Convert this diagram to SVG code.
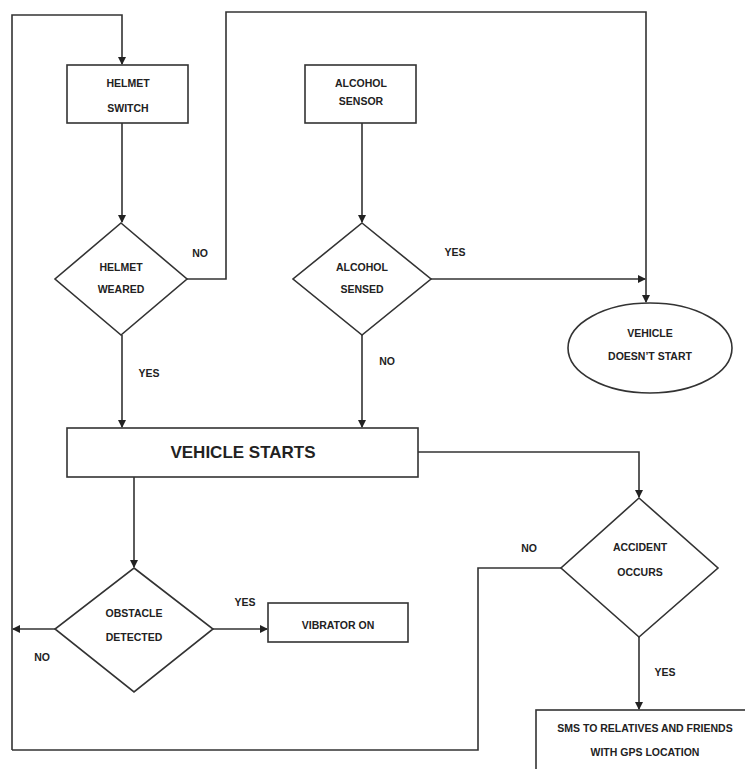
<svg xmlns="http://www.w3.org/2000/svg" width="745" height="769" viewBox="0 0 745 769">
<style>
.s{fill:#fff;stroke:#333;stroke-width:1.6}
.c{fill:none;stroke:#333;stroke-width:1.6}
text{font-family:"Liberation Sans",Arial,sans-serif;font-weight:bold;font-size:10.5px;fill:#222;text-anchor:middle}
.big{font-size:17px}
</style>
<defs>
<marker id="a" markerWidth="8" markerHeight="8" refX="7" refY="4" orient="auto" markerUnits="userSpaceOnUse">
<path d="M0,0 L8,4 L0,8 z" fill="#222"/>
</marker>
</defs>
<rect width="745" height="769" fill="#fff"/>
<g id="connectors">
<path class="c" d="M12,750 L12,15 L122,15 L122,64" marker-end="url(#a)"/>
<path class="c" d="M122,123 L122,222" marker-end="url(#a)"/>
<path class="c" d="M362,123 L362,222" marker-end="url(#a)"/>
<path class="c" d="M187,279 L226,279 L226,12 L646,12 L646,302" marker-end="url(#a)"/>
<path class="c" d="M431,279 L645,279" marker-end="url(#a)"/>
<path class="c" d="M122,335 L122,427" marker-end="url(#a)"/>
<path class="c" d="M362,335 L362,427" marker-end="url(#a)"/>
<path class="c" d="M418,452 L639,452 L639,497" marker-end="url(#a)"/>
<path class="c" d="M134,477 L134,567" marker-end="url(#a)"/>
<path class="c" d="M213,629 L267,629" marker-end="url(#a)"/>
<path class="c" d="M55,629 L13,629" marker-end="url(#a)"/>
<path class="c" d="M562,568 L478,568 L478,750 L12,750"/>
<path class="c" d="M639,637 L639,709" marker-end="url(#a)"/>
<text x="200" y="257">NO</text>
<text x="149" y="377">YES</text>
<text x="455" y="256">YES</text>
<text x="387" y="365">NO</text>
<text x="245" y="606">YES</text>
<text x="42" y="661">NO</text>
<text x="529" y="552">NO</text>
<text x="665" y="676">YES</text>
</g>
<g id="helmet-switch">
<rect class="s" x="67" y="65" width="121" height="58"/>
<text x="128" y="87">HELMET</text>
<text x="128" y="112">SWITCH</text>
</g>
<g id="alcohol-sensor">
<rect class="s" x="305" y="65" width="111" height="58"/>
<text x="361" y="87">ALCOHOL</text>
<text x="361" y="105">SENSOR</text>
</g>
<g id="helmet-weared">
<polygon class="s" points="121,223 187,279 121,335 55,279"/>
<text x="121" y="271">HELMET</text>
<text x="121" y="293">WEARED</text>
</g>
<g id="alcohol-sensed">
<polygon class="s" points="362,223 431,279 362,335 293,279"/>
<text x="362" y="271">ALCOHOL</text>
<text x="362" y="293">SENSED</text>
</g>
<g id="vehicle-doesnt-start">
<ellipse class="s" cx="650" cy="348" rx="82" ry="45"/>
<text x="650" y="337">VEHICLE</text>
<text x="650" y="360">DOESN’T START</text>
</g>
<g id="vehicle-starts">
<rect class="s" x="67" y="428" width="351" height="49"/>
<text class="big" x="243" y="458">VEHICLE STARTS</text>
</g>
<g id="obstacle-detected">
<polygon class="s" points="134,568 213,629 134,692 55,629"/>
<text x="134" y="617">OBSTACLE</text>
<text x="134" y="641">DETECTED</text>
</g>
<g id="vibrator-on">
<rect class="s" x="268" y="603" width="140" height="39"/>
<text x="338" y="629">VIBRATOR ON</text>
</g>
<g id="accident-occurs">
<polygon class="s" points="639,498 718,568 639,637 561,568"/>
<text x="640" y="551">ACCIDENT</text>
<text x="640" y="576">OCCURS</text>
</g>
<g id="sms">
<rect class="s" x="536" y="710" width="230" height="80"/>
<text x="645" y="732">SMS TO RELATIVES AND FRIENDS</text>
<text x="645" y="756">WITH GPS LOCATION</text>
</g>
</svg>
